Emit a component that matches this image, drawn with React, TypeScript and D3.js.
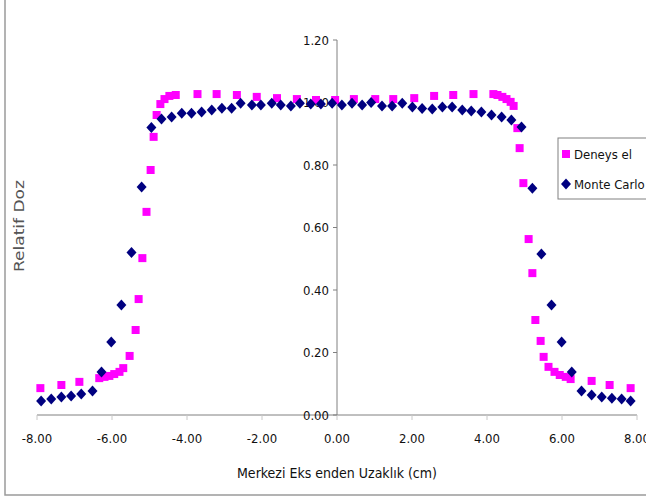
import React from "react";
import * as d3 from "d3";

const deneyselX = [-7.91, -7.35, -6.87, -6.34, -6.2, -6.07, -5.94, -5.8, -5.7, -5.53, -5.37, -5.29, -5.19, -5.08, -4.97, -4.89, -4.81, -4.71, -4.6, -4.47, -4.3, -3.72, -3.21, -2.67, -2.14, -1.6, -1.07, -0.56, -0.05, 0.45, 1.02, 1.5, 2.06, 2.59, 3.1, 3.64, 4.17, 4.28, 4.41, 4.52, 4.63, 4.71, 4.81, 4.87, 4.97, 5.11, 5.21, 5.29, 5.43, 5.51, 5.64, 5.8, 5.94, 6.1, 6.23, 6.79, 7.27, 7.83];
const deneyselY = [0.086, 0.096, 0.106, 0.118, 0.122, 0.125, 0.131, 0.138, 0.15, 0.189, 0.272, 0.371, 0.502, 0.65, 0.784, 0.89, 0.96, 0.995, 1.011, 1.021, 1.024, 1.027, 1.027, 1.024, 1.018, 1.014, 1.011, 1.008, 1.008, 1.011, 1.011, 1.011, 1.014, 1.021, 1.024, 1.027, 1.027, 1.024, 1.018, 1.011, 1.002, 0.989, 0.918, 0.854, 0.742, 0.563, 0.454, 0.304, 0.237, 0.186, 0.154, 0.138, 0.128, 0.122, 0.115, 0.109, 0.096, 0.086];

const monteX = [-7.89, -7.62, -7.35, -7.09, -6.82, -6.52, -6.28, -6.02, -5.75, -5.48, -5.21, -4.95, -4.68, -4.41, -4.14, -3.88, -3.61, -3.34, -3.07, -2.81, -2.57, -2.27, -2.03, -1.74, -1.5, -1.23, -0.99, -0.7, -0.43, -0.13, 0.13, 0.4, 0.67, 0.91, 1.2, 1.47, 1.74, 2.01, 2.27, 2.54, 2.81, 3.07, 3.34, 3.58, 3.85, 4.12, 4.39, 4.65, 4.92, 5.21, 5.45, 5.72, 5.99, 6.26, 6.52, 6.79, 7.06, 7.33, 7.59, 7.83];
const monteY = [0.045, 0.051, 0.058, 0.061, 0.067, 0.077, 0.138, 0.234, 0.352, 0.52, 0.73, 0.92, 0.947, 0.954, 0.966, 0.966, 0.97, 0.976, 0.982, 0.982, 0.998, 0.992, 0.992, 0.998, 0.992, 0.989, 0.998, 0.995, 0.995, 0.998, 0.992, 0.998, 0.992, 1.0, 0.989, 0.989, 0.998, 0.986, 0.981, 0.979, 0.986, 0.986, 0.976, 0.973, 0.97, 0.96, 0.954, 0.944, 0.922, 0.726, 0.515, 0.352, 0.234, 0.138, 0.077, 0.064, 0.058, 0.054, 0.051, 0.045];

const xTicks = [-8, -6, -4, -2, 0, 2, 4, 6, 8];
const yTicks = [0, 0.2, 0.4, 0.6, 0.8, 1.0, 1.2];

const seriesNames = ["Deneys el", "Monte Carlo"];
const xTitle = "Merkezi Eks enden Uzaklık (cm)";
const yTitle = "Relatif Doz";

const FONT = "'Liberation Sans Narrow', 'DejaVu Sans Condensed', 'Open Sans', sans-serif";

export default function App() {
  const W = 646, H = 500;
  const x = d3.scaleLinear().domain([-8, 8]).range([37, 637]);
  const y = d3.scaleLinear().domain([0, 1.2]).range([415, 40]);
  const fmt = d3.formatLocale({ decimal: ".", thousands: ",", grouping: [3], currency: ["", ""], minus: "-" }).format(".2f");
  const sq = 8;
  const diamond = (cx: number, cy: number) =>
    `M${cx},${cy - 5.5}L${cx + 5},${cy}L${cx},${cy + 5.5}L${cx - 5},${cy}Z`;

  return (
    <svg width={W} height={H} style={{ position: "absolute", left: 0, top: 0, fontFamily: FONT }}>
      <rect x={0} y={0} width={W} height={H} fill="#fff" />
      <rect x={5} y={-2} width={W + 10} height={497} fill="none" stroke="#9a9a9a" strokeWidth={1.5} />

      {/* x axis */}
      <line x1={x(-8)} x2={x(8)} y1={y(0)} y2={y(0)} stroke="#808080" strokeWidth={1} />
      {xTicks.map((t) => (
        <g key={"xt" + t}>
          <line x1={x(t)} x2={x(t)} y1={y(0)} y2={y(0) + 5} stroke="#c8c8c8" />
          <text x={x(t)} y={y(0) + 28} textAnchor="middle" fontSize={13} fill="#111">
            {fmt(t)}
          </text>
        </g>
      ))}

      {/* y axis */}
      <line x1={x(0)} x2={x(0)} y1={y(1.2)} y2={y(0)} stroke="#808080" strokeWidth={1} />
      {yTicks.map((t) => (
        <g key={"yt" + t}>
          <line x1={x(0) - 4} x2={x(0)} y1={y(t)} y2={y(t)} stroke="#808080" />
          <text x={x(0) - 8} y={y(t) + 4.5} textAnchor="end" fontSize={13} fill="#111">
            {fmt(t)}
          </text>
        </g>
      ))}

      {/* titles */}
      <text x={x(0)} y={478} textAnchor="middle" fontSize={14} fill="#111" textLength={200} lengthAdjust="spacingAndGlyphs">
        {xTitle}
      </text>
      <text transform={`translate(24,226) rotate(-90)`} textAnchor="middle" fontSize={13.5} fill="#555" textLength={92} lengthAdjust="spacingAndGlyphs">
        {yTitle}
      </text>

      {/* series */}
      {deneyselX.map((v, i) => (
        <rect key={"d" + i} x={x(v) - sq / 2} y={y(deneyselY[i]) - sq / 2} width={sq} height={sq} fill="#ff00ff" />
      ))}
      {monteX.map((v, i) => (
        <path key={"m" + i} d={diamond(x(v), y(monteY[i]))} fill="#000080" />
      ))}

      {/* legend */}
      <rect x={558} y={138} width={100} height={61} fill="#fff" stroke="#808080" />
      <rect x={562} y={150} width={8} height={8} fill="#ff00ff" />
      <text x={574} y={158.5} fontSize={13} fill="#111">{seriesNames[0]}</text>
      <path d={diamond(566, 184)} fill="#000080" />
      <text x={574} y={188.5} fontSize={13} fill="#111">{seriesNames[1]}</text>
    </svg>
  );
}
